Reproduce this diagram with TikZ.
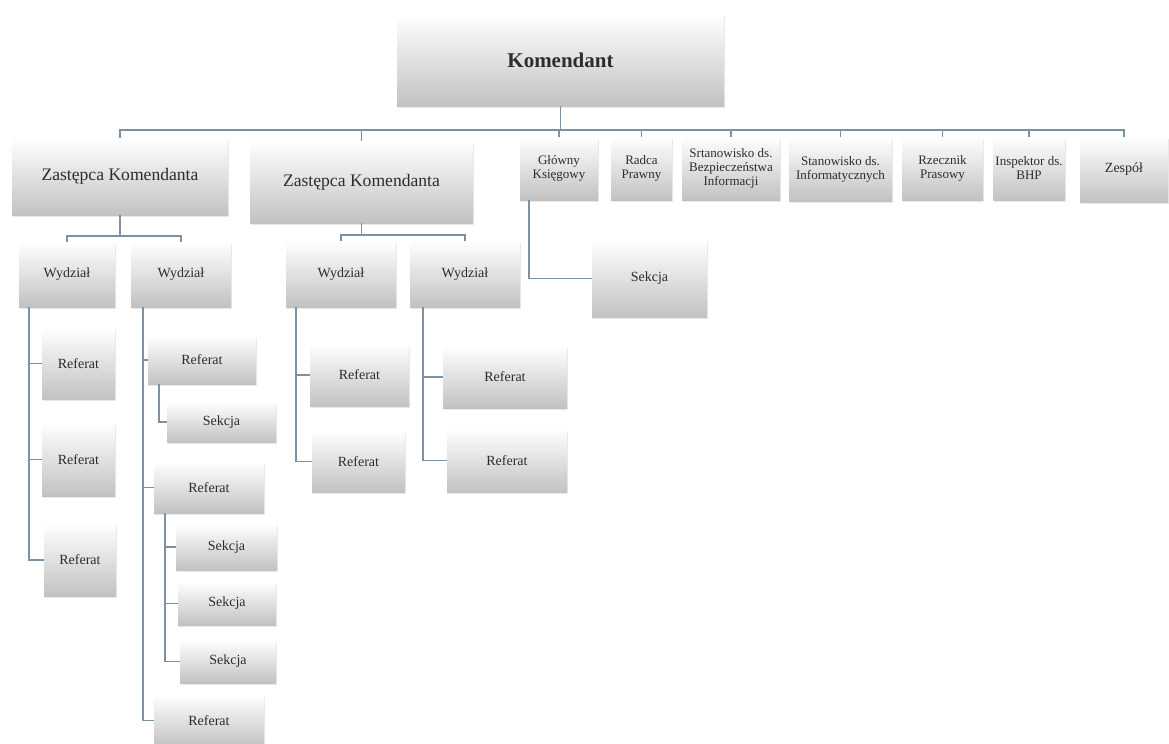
\documentclass[tikz,border=0pt]{standalone}
\usepackage{fontspec}
\setmainfont{Liberation Serif}
\usetikzlibrary{calc,shadows}
\definecolor{linec}{RGB}{125,145,165}
\definecolor{txtc}{RGB}{45,45,45}
\tikzset{
  orgnode/.style={inner sep=1pt, outer sep=0pt, align=center, text=txtc,
    top color=white, bottom color=black!24,
    drop shadow={opacity=0.18, shadow xshift=0.7pt, shadow yshift=-0.9pt},
    font=\fontsize{7}{7.6}\selectfont},
  small/.style={font=\fontsize{6.5}{7}\selectfont},
  big/.style={font=\fontsize{8.8}{10}\selectfont},
  top/.style={font=\fontsize{10.5}{12}\selectfont\bfseries},
  conn/.style={draw=linec, line width=0.8pt}
}
\newcommand{\orgbox}[7]{%
  \pgfmathsetmacro\bw{(#5-#3)*0.5}%
  \pgfmathsetmacro\bh{(#6-#4)*0.5}%
  \node[orgnode,#1, minimum width=\bw pt, minimum height=\bh pt] (#2) at ({(#3+#5)/2},{(#4+#6)/2}) {#7};}
\begin{document}
\begin{tikzpicture}[x=0.5pt,y=-0.5pt]
\useasboundingbox (0,0) rectangle (1169,744);
\fill[white] (0,0) rectangle (1169,744);
\begin{scope}
\clip (0,0) rectangle (1169,744);
% top
\orgbox{top}{kom}{397}{14}{724}{106}{Komendant}
% row
\orgbox{big}{zk1}{12}{138}{228}{215}{Zastępca Komendanta}
\orgbox{big}{zk2}{250}{141}{473}{223}{Zastępca Komendanta}
\orgbox{small}{gk}{520}{137}{598}{200}{Główny\\Księgowy}
\orgbox{small}{rp}{611}{137}{672}{200}{Radca\\Prawny}
\orgbox{small}{sbi}{682}{137}{780}{200}{Srtanowisko ds.\\Bezpieczeństwa\\Informacji}
\orgbox{small}{sdi}{789}{137}{892}{201}{Stanowisko ds.\\Informatycznych}
\orgbox{small}{rzp}{902}{137}{983}{200}{Rzecznik\\Prasowy}
\orgbox{small}{bhp}{994}{137}{1064}{200}{Inspektor ds.\\BHP}
\orgbox{}{zes}{1080}{137}{1168}{202}{Zespół}
% Wydzialy
\orgbox{}{wd1}{19}{242}{115}{307}{Wydział}
\orgbox{}{wd2}{131}{242}{231}{307}{Wydział}
\orgbox{}{wd3}{286}{241}{396}{307}{Wydział}
\orgbox{}{wd4}{410}{241}{520}{307}{Wydział}
% column 1
\orgbox{}{r11}{42}{328}{115}{399}{Referat}
\orgbox{}{r12}{42}{423}{115}{496}{Referat}
\orgbox{}{r13}{44}{524}{116}{596}{Referat}
% column 2
\orgbox{}{r21}{148}{336}{256}{384}{Referat}
\orgbox{}{s21}{167}{402}{276}{442}{Sekcja}
\orgbox{}{r22}{154}{462}{264}{513}{Referat}
\orgbox{}{s22}{176}{524}{277}{570}{Sekcja}
\orgbox{}{s23}{178}{582}{276}{625}{Sekcja}
\orgbox{}{s24}{180}{640}{276}{683}{Sekcja}
\orgbox{}{r23}{154}{695}{264}{746}{Referat}
% column 3,4
\orgbox{}{r31}{310}{344}{409}{406}{Referat}
\orgbox{}{r32}{312}{431}{405}{492}{Referat}
\orgbox{}{r41}{443}{346}{567}{408}{Referat}
\orgbox{}{r42}{447}{429}{567}{492}{Referat}
% Glowny sekcja
\orgbox{}{gsek}{592}{240}{707}{317}{Sekcja}

% connectors: top bus
\coordinate (bus) at ($(kom.south)+(0,24)$);
\draw[conn] (kom.south) -- (bus);
\foreach \c in {zk1,zk2,gk,rp,sbi,sdi,rzp,bhp,zes}
  \draw[conn] (bus) -| (\c.north);
% Zastepca 1
\coordinate (b1) at ($(zk1.south)+(0,21)$);
\draw[conn] (zk1.south) -- (b1);
\draw[conn] (b1) -| (wd1.north);
\draw[conn] (b1) -| (wd2.north);
% Zastepca 2
\coordinate (b2) at ($(zk2.south)+(0,12)$);
\draw[conn] (zk2.south) -- (b2);
\draw[conn] (b2) -| (wd3.north);
\draw[conn] (b2) -| (wd4.north);
% side branches
\foreach \c in {r11,r12,r13}
  \draw[conn] ($(wd1.south west)+(10,0)$) |- (\c.west);
\foreach \c in {r21,r22,r23}
  \draw[conn] ($(wd2.south west)+(12,0)$) |- (\c.west);
\draw[conn] ($(r21.south west)+(11,0)$) |- (s21.west);
\foreach \c in {s22,s23,s24}
  \draw[conn] ($(r22.south west)+(11,0)$) |- (\c.west);
\foreach \c in {r31,r32}
  \draw[conn] ($(wd3.south west)+(10,0)$) |- (\c.west);
\foreach \c in {r41,r42}
  \draw[conn] ($(wd4.south west)+(13,0)$) |- (\c.west);
\draw[conn] ($(gk.south west)+(9,0)$) |- (gsek.west);
\end{scope}
\end{tikzpicture}
\end{document}
